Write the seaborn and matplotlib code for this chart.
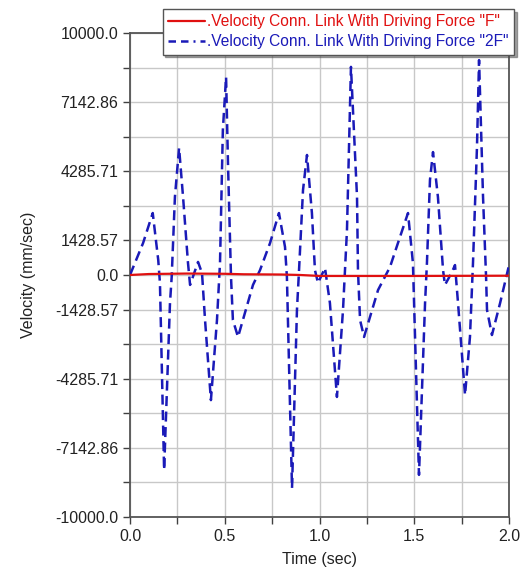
import seaborn as sns
import matplotlib.pyplot as plt
from matplotlib.lines import Line2D
import pandas as pd
import numpy as np

# velocity with driving force "2F"
time_2f = [0.0, 0.069, 0.12, 0.149, 0.158, 0.18, 0.211, 0.22, 0.237, 0.259,
           0.28, 0.306, 0.317, 0.33, 0.359, 0.38, 0.396, 0.427, 0.459, 0.475,
           0.49, 0.507, 0.517, 0.533, 0.543, 0.57, 0.649, 0.686, 0.739, 0.786,
           0.818, 0.828, 0.844, 0.855, 0.881, 0.892, 0.913, 0.934, 0.96, 0.976,
           0.992, 1.029, 1.055, 1.092, 1.124, 1.145, 1.166, 1.198, 1.203, 1.214,
           1.235, 1.309, 1.372, 1.414, 1.467, 1.493, 1.525, 1.557, 1.567, 1.583,
           1.599, 1.625, 1.652, 1.662, 1.699, 1.715, 1.731, 1.768, 1.794, 1.81,
           1.831, 1.842, 1.863, 1.879, 1.884, 1.91, 1.953, 2.0]
vel_2f = [0, 1320, 2560, 620, -330, -8060, -1160, -80, 3220, 5250,
          3220, 500, -410, -120, 540, 80, -1860, -5170, -1860, 500,
          5990, 8180, 4630, -80, -1860, -2560, -410, 200, 1320, 2560,
          1160, -80, -5290, -8800, -1450, 200, 3510, 4960, 2560, 200,
          -330, 290, -1160, -5040, -1450, 1860, 8600, 3220, 200, -1860,
          -2560, -620, 330, 1320, 2560, 500, -8260, -1160, 500, 3930,
          5080, 3220, 200, -410, 120, 410, -1160, -4960, -2560, 500,
          5290, 8880, 3220, -80, -1450, -2480, -1160, 400]

# velocity with driving force "F"
time_f = [0.0, 0.1, 0.3, 0.5, 0.6, 0.8, 0.9, 1.0, 1.5, 2.0]
vel_f = [0, 40, 60, 50, 30, 20, 0, -40, -40, -30]

label_f = '.Velocity Conn. Link With Driving Force "F"'
label_2f = '.Velocity Conn. Link With Driving Force "2F"'

red = "#e01010"
blue = "#1a1ab8"

sns.set_style("white")
plt.rcParams['font.family'] = ['Liberation Sans', 'DejaVu Sans']

df_f = pd.DataFrame({"t": time_f, "v": vel_f})
df_2f = pd.DataFrame({"t": time_2f, "v": vel_2f})

fig = plt.figure(figsize=(5.32, 5.72), dpi=100)
ax = fig.add_axes([130 / 532, 1 - 517 / 572, 379 / 532, 484 / 572])

sns.lineplot(data=df_2f, x="t", y="v", ax=ax, color=blue, linewidth=1.8,
             linestyle=(0, (4, 2.2)), zorder=3)
sns.lineplot(data=df_f, x="t", y="v", ax=ax, color=red, linewidth=1.6, zorder=4)

ax.set_xlim(0, 2.0)
ax.set_ylim(-10000, 10000)

xt = np.arange(0, 2.01, 0.25)
ax.set_xticks(xt)
ax.set_xticklabels([f"{v:.1f}" if abs(v * 2 - round(v * 2)) < 1e-9 else "" for v in xt])

step = 20000 / 14
yt = [-10000 + i * step for i in range(15)]
ylabels = []
for i, v in enumerate(yt):
    if i in (0, 14):
        ylabels.append(f"{v:.1f}")
    elif i == 7:
        ylabels.append("0.0")
    elif i % 2 == 0:
        ylabels.append(f"{v:.2f}")
    else:
        ylabels.append("")
ax.set_yticks(yt)
ax.set_yticklabels(ylabels)

ax.grid(True, color="#c8c8c8", linewidth=1.0)
ax.tick_params(axis="both", direction="out", length=5, width=1, color="#404040",
               labelsize=11.5, labelcolor="#222222", left=True, bottom=True)
for s in ax.spines.values():
    s.set_color("#555555")
    s.set_linewidth(1.3)

ax.set_xlabel("Time (sec)", fontsize=11.5, color="#222222", labelpad=6)
ax.set_ylabel("Velocity (mm/sec)", fontsize=11.5, color="#222222", labelpad=14)

handles = [Line2D([], [], color=red, linewidth=1.6),
           Line2D([], [], color=blue, linewidth=1.8, linestyle=(0, (3, 2, 3, 2, 0.8, 2)))]
leg = fig.legend(handles, [label_f, label_2f], loc="upper right",
                 bbox_to_anchor=(514 / 532, 1 - 9 / 572), fontsize=11.2,
                 labelcolor=[red, blue], frameon=True, fancybox=False,
                 shadow=True, handlelength=2.4, handletextpad=0.1,
                 borderpad=0.35, labelspacing=0.3, borderaxespad=0)
leg.get_frame().set_edgecolor("#555555")
leg.get_frame().set_linewidth(1.0)

fig.savefig("out.png", dpi=100)
